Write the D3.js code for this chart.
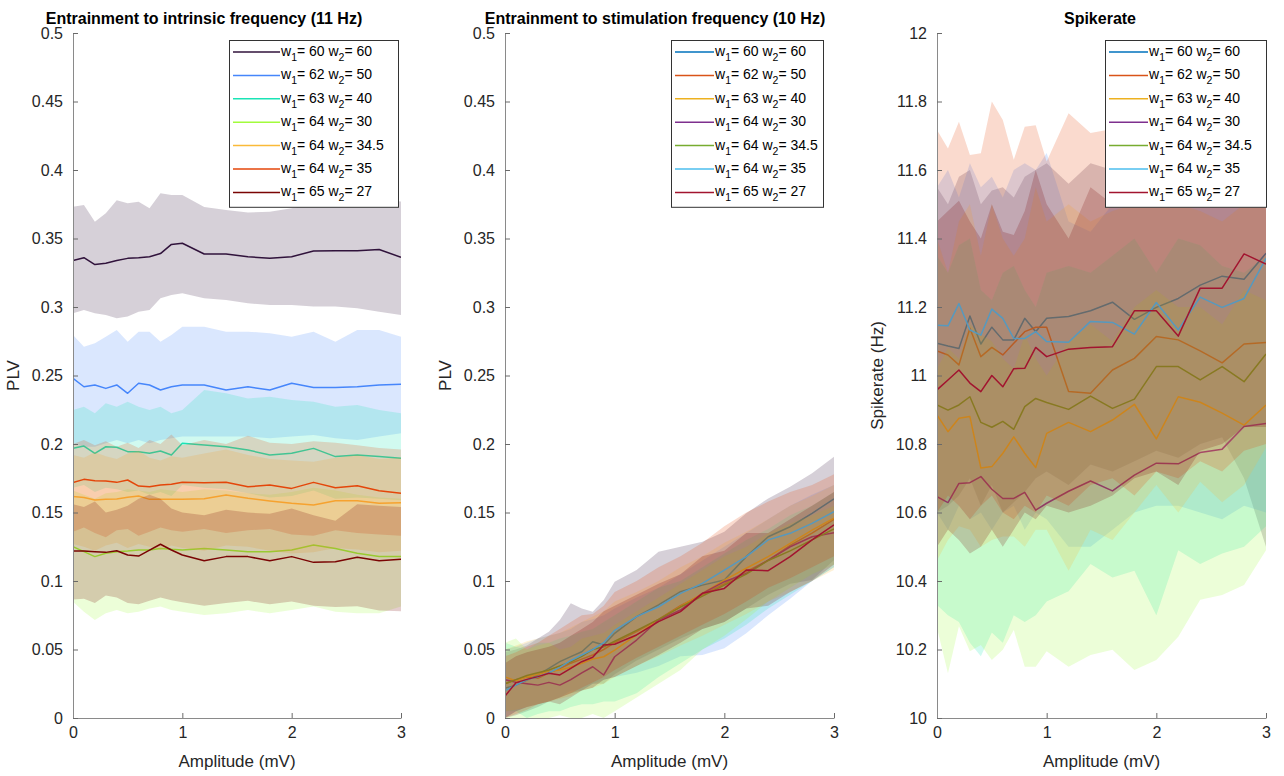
<!DOCTYPE html>
<html>
<head>
<meta charset="utf-8">
<script src="https://cdn.jsdelivr.net/npm/d3@7"></script>
<style>
  body { margin: 0; background: #fff; }
  svg { display: block; font-family: Arial, "Liberation Sans", Helvetica, sans-serif; }
</style>
</head>
<body>
<div id="chart"></div>
<script>
// amplitude grid (mV): 0.1 steps up to 1, then 0.2 steps
const amplitude = [0, 0.1, 0.2, 0.3, 0.4, 0.5, 0.6, 0.7, 0.8, 0.9, 1.0, 1.2, 1.4, 1.6, 1.8, 2.0, 2.2, 2.4, 2.6, 2.8, 3.0];

const w1 = [60, 62, 63, 64, 64, 64, 65];
const w2 = [60, 50, 40, 30, 34.5, 35, 27];

const ampTicks = [0, 1, 2, 3];
const plvTicks = [0, 0.05, 0.1, 0.15, 0.2, 0.25, 0.3, 0.35, 0.4, 0.45, 0.5];
const spikeTicks = [10, 10.2, 10.4, 10.6, 10.8, 11, 11.2, 11.4, 11.6, 11.8, 12];

const turboColors = ["#30123b", "#4686fb", "#1ae4b6", "#a2fc3c", "#faba39", "#e4460a", "#7a0403"];
const matlabColors = ["#0072bd", "#d95319", "#edb120", "#7e2f8e", "#77ac30", "#4dbeee", "#a2142f"];

// PLV at intrinsic frequency (11 Hz)
const intrMean = [
  [0.334, 0.336, 0.331, 0.332, 0.334, 0.3355, 0.336, 0.3367, 0.339, 0.3457, 0.3465, 0.3387, 0.3387, 0.3367, 0.3355, 0.3367, 0.3409, 0.341, 0.3411, 0.342, 0.3363],
  [0.248, 0.2418, 0.2431, 0.2406, 0.2431, 0.237, 0.2443, 0.2431, 0.2394, 0.2418, 0.2431, 0.2431, 0.2394, 0.2418, 0.2394, 0.2443, 0.2413, 0.2413, 0.2418, 0.2431, 0.2436],
  [0.1968, 0.1985, 0.1932, 0.198, 0.1976, 0.1944, 0.1944, 0.1932, 0.1949, 0.192, 0.2005, 0.1993, 0.198, 0.1956, 0.192, 0.1932, 0.1968, 0.1908, 0.192, 0.1908, 0.1896],
  [0.125, 0.1214, 0.1178, 0.1202, 0.1214, 0.1219, 0.1226, 0.1226, 0.1238, 0.1231, 0.1226, 0.1238, 0.1226, 0.1214, 0.1214, 0.1226, 0.1263, 0.1238, 0.1202, 0.1178, 0.1178],
  [0.1616, 0.1609, 0.1591, 0.1596, 0.1599, 0.1611, 0.162, 0.1596, 0.1596, 0.1596, 0.1596, 0.1601, 0.1628, 0.1604, 0.1584, 0.1567, 0.1555, 0.1586, 0.1586, 0.1567, 0.1571],
  [0.1718, 0.1742, 0.1732, 0.173, 0.172, 0.1737, 0.1693, 0.1688, 0.17, 0.1706, 0.172, 0.1718, 0.172, 0.1688, 0.17, 0.1676, 0.172, 0.1681, 0.1696, 0.1659, 0.164],
  [0.1219, 0.1219, 0.1214, 0.1209, 0.1221, 0.119, 0.1182, 0.1226, 0.1268, 0.1226, 0.119, 0.1148, 0.1178, 0.1178, 0.1148, 0.1178, 0.1136, 0.114, 0.1173, 0.1148, 0.1158]
];
const intrLo = [
  [0.2954, 0.2978, 0.2954, 0.2942, 0.2917, 0.293, 0.2966, 0.2978, 0.3063, 0.3088, 0.31, 0.3063, 0.3051, 0.3027, 0.3015, 0.3015, 0.3003, 0.3003, 0.299, 0.2966, 0.2942],
  [0.2005, 0.198, 0.198, 0.2005, 0.2029, 0.2005, 0.2029, 0.2005, 0.2029, 0.2042, 0.2054, 0.2054, 0.2054, 0.2054, 0.2042, 0.2054, 0.2066, 0.2042, 0.2029, 0.2054, 0.2078],
  [0.168, 0.17, 0.165, 0.168, 0.167, 0.165, 0.166, 0.163, 0.165, 0.162, 0.17, 0.168, 0.167, 0.164, 0.161, 0.162, 0.166, 0.16, 0.161, 0.16, 0.159],
  [0.0849, 0.0776, 0.0715, 0.0764, 0.0788, 0.0764, 0.0776, 0.08, 0.0813, 0.0788, 0.0776, 0.0752, 0.0764, 0.0788, 0.0764, 0.0788, 0.0813, 0.0776, 0.0764, 0.0764, 0.0813],
  [0.127, 0.125, 0.122, 0.126, 0.128, 0.124, 0.127, 0.125, 0.123, 0.126, 0.124, 0.122, 0.126, 0.125, 0.122, 0.12, 0.121, 0.124, 0.123, 0.121, 0.122],
  [0.136, 0.139, 0.135, 0.132, 0.137, 0.138, 0.133, 0.136, 0.139, 0.137, 0.136, 0.138, 0.135, 0.137, 0.138, 0.134, 0.133, 0.137, 0.135, 0.134, 0.133],
  [0.0865, 0.087, 0.084, 0.0895, 0.088, 0.084, 0.083, 0.0855, 0.088, 0.086, 0.0845, 0.082, 0.084, 0.0855, 0.083, 0.085, 0.082, 0.081, 0.0815, 0.0785, 0.078]
];
const intrHi = [
  [0.3732, 0.3745, 0.3623, 0.3684, 0.378, 0.3757, 0.3769, 0.372, 0.383, 0.3818, 0.3818, 0.373, 0.3708, 0.369, 0.3696, 0.372, 0.3757, 0.377, 0.379, 0.378, 0.377],
  [0.2796, 0.271, 0.2735, 0.2783, 0.2832, 0.2747, 0.282, 0.282, 0.2747, 0.2796, 0.2856, 0.2856, 0.282, 0.282, 0.2808, 0.2783, 0.282, 0.2747, 0.2832, 0.2832, 0.2783],
  [0.2248, 0.2272, 0.2224, 0.2297, 0.2272, 0.2309, 0.2272, 0.2248, 0.2272, 0.2224, 0.2248, 0.2394, 0.237, 0.2333, 0.2345, 0.2321, 0.2309, 0.2272, 0.2285, 0.2248, 0.2224],
  [0.166, 0.163, 0.16, 0.164, 0.165, 0.167, 0.166, 0.165, 0.167, 0.166, 0.165, 0.167, 0.166, 0.164, 0.163, 0.165, 0.168, 0.166, 0.163, 0.161, 0.16],
  [0.192, 0.19, 0.194, 0.191, 0.189, 0.193, 0.195, 0.19, 0.188, 0.191, 0.19, 0.193, 0.196, 0.192, 0.189, 0.188, 0.187, 0.19, 0.192, 0.189, 0.19],
  [0.2, 0.203, 0.199, 0.202, 0.198, 0.201, 0.197, 0.203, 0.2, 0.207, 0.199, 0.203, 0.2, 0.206, 0.201, 0.2, 0.202, 0.201, 0.199, 0.197, 0.196],
  [0.156, 0.154, 0.158, 0.15, 0.152, 0.155, 0.16, 0.163, 0.16, 0.153, 0.15, 0.148, 0.152, 0.15, 0.149, 0.153, 0.148, 0.144, 0.156, 0.155, 0.154]
];

// PLV at stimulation frequency (10 Hz)
const stimMean = [
  [0.0217, 0.024, 0.0277, 0.0314, 0.0363, 0.0411, 0.0448, 0.0484, 0.0557, 0.0533, 0.0618, 0.074, 0.0825, 0.0922, 0.097, 0.1007, 0.1178, 0.1323, 0.1396, 0.1494, 0.16],
  [0.025, 0.028, 0.03, 0.029, 0.033, 0.036, 0.04, 0.043, 0.046, 0.05, 0.055, 0.063, 0.072, 0.082, 0.09, 0.098, 0.107, 0.115, 0.126, 0.135, 0.145],
  [0.03, 0.027, 0.03, 0.032, 0.034, 0.035, 0.037, 0.04, 0.043, 0.0447, 0.0496, 0.0606, 0.0715, 0.0812, 0.091, 0.1007, 0.1093, 0.1178, 0.1275, 0.1372, 0.1458],
  [0.028, 0.026, 0.025, 0.024, 0.026, 0.024, 0.028, 0.033, 0.0374, 0.0314, 0.0447, 0.0569, 0.0715, 0.0788, 0.091, 0.0995, 0.1056, 0.1153, 0.125, 0.1323, 0.1353],
  [0.025, 0.028, 0.031, 0.033, 0.035, 0.038, 0.041, 0.045, 0.05, 0.052, 0.056, 0.064, 0.072, 0.081, 0.089, 0.097, 0.105, 0.115, 0.122, 0.13, 0.138],
  [0.02, 0.024, 0.028, 0.03, 0.033, 0.037, 0.042, 0.046, 0.05, 0.055, 0.064, 0.074, 0.0812, 0.091, 0.0983, 0.108, 0.1178, 0.13, 0.1348, 0.1421, 0.1506],
  [0.016, 0.0258, 0.0282, 0.0302, 0.0326, 0.0314, 0.0363, 0.0411, 0.0443, 0.0533, 0.0538, 0.0606, 0.0703, 0.0776, 0.091, 0.0946, 0.108, 0.1075, 0.1178, 0.13, 0.1409]
];
const stimLo = [
  [0.0, 0.002, 0.005, 0.008, 0.012, 0.015, 0.018, 0.02, 0.025, 0.025, 0.032, 0.042, 0.05, 0.058, 0.065, 0.07, 0.08, 0.09, 0.098, 0.1007, 0.1153],
  [0.0, 0.005, 0.008, 0.01, 0.012, 0.015, 0.02, 0.02, 0.025, 0.028, 0.03, 0.033, 0.038, 0.045, 0.046, 0.0509, 0.0618, 0.075, 0.087, 0.1, 0.11],
  [0.005, 0.005, 0.0, 0.003, 0.005, 0.005, 0.008, 0.01, 0.01, 0.012, 0.012, 0.018, 0.03, 0.04, 0.05, 0.058, 0.068, 0.08, 0.09, 0.1, 0.11],
  [0.0, 0.0, 0.0, 0.0, 0.0, 0.002, 0.0, 0.0, 0.003, 0.0, 0.005, 0.015, 0.025, 0.035, 0.05, 0.06, 0.072, 0.085, 0.095, 0.105, 0.112],
  [0.005, 0.006, 0.008, 0.01, 0.012, 0.014, 0.016, 0.02, 0.022, 0.025, 0.03, 0.038, 0.045, 0.053, 0.06, 0.068, 0.076, 0.085, 0.092, 0.1, 0.108],
  [0.0, 0.003, 0.006, 0.01, 0.012, 0.015, 0.018, 0.022, 0.026, 0.03, 0.035, 0.044, 0.052, 0.06, 0.068, 0.076, 0.085, 0.095, 0.102, 0.11, 0.118],
  [0.0, 0.005, 0.008, 0.01, 0.012, 0.01, 0.015, 0.02, 0.022, 0.028, 0.03, 0.038, 0.046, 0.055, 0.065, 0.07, 0.08, 0.082, 0.092, 0.1, 0.112]
];
const stimHi = [
  [0.048, 0.05, 0.053, 0.058, 0.063, 0.0715, 0.0837, 0.08, 0.0776, 0.0861, 0.0995, 0.108, 0.1214, 0.125, 0.1287, 0.136, 0.1494, 0.1603, 0.1688, 0.1786, 0.1907],
  [0.05, 0.052, 0.055, 0.058, 0.06, 0.062, 0.065, 0.07, 0.072, 0.075, 0.08, 0.088, 0.095, 0.105, 0.115, 0.125, 0.135, 0.145, 0.155, 0.163, 0.17],
  [0.055, 0.052, 0.05, 0.055, 0.055, 0.058, 0.06, 0.063, 0.065, 0.07, 0.075, 0.085, 0.095, 0.1, 0.11, 0.12, 0.13, 0.138, 0.148, 0.155, 0.165],
  [0.055, 0.058, 0.05, 0.053, 0.055, 0.05, 0.052, 0.058, 0.06, 0.062, 0.068, 0.078, 0.088, 0.098, 0.108, 0.118, 0.125, 0.135, 0.142, 0.148, 0.155],
  [0.05, 0.053, 0.056, 0.058, 0.06, 0.062, 0.066, 0.07, 0.074, 0.078, 0.085, 0.092, 0.1, 0.11, 0.118, 0.128, 0.136, 0.145, 0.155, 0.162, 0.17],
  [0.045, 0.048, 0.052, 0.055, 0.06, 0.065, 0.07, 0.075, 0.076, 0.082, 0.092, 0.1, 0.11, 0.118, 0.128, 0.14, 0.15, 0.158, 0.165, 0.17, 0.178],
  [0.04, 0.045, 0.048, 0.05, 0.052, 0.055, 0.06, 0.065, 0.07, 0.078, 0.082, 0.09, 0.098, 0.105, 0.118, 0.122, 0.135, 0.135, 0.145, 0.155, 0.165]
];

// spike rate (Hz)
const rateMean = [
  [11.094, 11.086, 11.079, 11.174, 11.092, 11.141, 11.104, 11.104, 11.167, 11.128, 11.167, 11.172, 11.189, 11.214, 11.164, 11.199, 11.225, 11.264, 11.29, 11.281, 11.357],
  [11.072, 11.06, 11.031, 11.138, 11.055, 11.082, 11.06, 11.094, 11.128, 11.141, 11.141, 10.953, 10.948, 11.016, 11.05, 11.114, 11.104, 11.072, 11.037, 11.092, 11.096],
  [10.885, 10.836, 10.875, 10.88, 10.73, 10.734, 10.773, 10.821, 10.773, 10.731, 10.831, 10.863, 10.836, 10.87, 10.916, 10.815, 10.938, 10.922, 10.89, 10.855, 10.914],
  [10.646, 10.629, 10.685, 10.687, 10.705, 10.668, 10.641, 10.641, 10.659, 10.607, 10.627, 10.662, 10.692, 10.663, 10.709, 10.744, 10.742, 10.775, 10.785, 10.851, 10.86],
  [10.914, 10.899, 10.914, 10.938, 10.863, 10.849, 10.866, 10.843, 10.909, 10.933, 10.921, 10.901, 10.94, 10.904, 10.931, 11.026, 11.026, 10.987, 11.026, 10.982, 11.063],
  [11.147, 11.145, 11.21, 11.133, 11.118, 11.194, 11.167, 11.108, 11.108, 11.128, 11.099, 11.097, 11.158, 11.155, 11.121, 11.213, 11.133, 11.229, 11.199, 11.225, 11.342],
  [10.958, 10.987, 11.016, 10.978, 10.953, 11.0, 10.967, 11.02, 11.021, 11.082, 11.055, 11.077, 11.082, 11.084, 11.189, 11.189, 11.115, 11.255, 11.255, 11.355, 11.325]
];
const rateLo = [
  [10.6, 10.62, 10.65, 10.7, 10.62, 10.68, 10.6, 10.63, 10.66, 10.7, 10.72, 10.68, 10.74, 10.72, 10.75, 10.78, 10.76, 10.8, 10.82, 10.7, 10.5],
  [10.6, 10.55, 10.62, 10.58, 10.6, 10.55, 10.6, 10.62, 10.55, 10.6, 10.58, 10.5, 10.5, 10.55, 10.6, 10.62, 10.62, 10.6, 10.58, 10.62, 10.6],
  [10.33, 10.3, 10.28, 10.22, 10.18, 10.25, 10.22, 10.3, 10.28, 10.3, 10.34, 10.37, 10.45, 10.41, 10.43, 10.3, 10.49, 10.45, 10.48, 10.5, 10.56],
  [10.263, 10.131, 10.268, 10.195, 10.213, 10.169, 10.199, 10.257, 10.15, 10.15, 10.195, 10.15, 10.184, 10.199, 10.14, 10.169, 10.237, 10.345, 10.359, 10.388, 10.49],
  [10.46, 10.52, 10.56, 10.55, 10.5, 10.52, 10.53, 10.53, 10.5, 10.55, 10.55, 10.43, 10.55, 10.52, 10.6, 10.68, 10.6, 10.69, 10.63, 10.68, 10.79],
  [10.6, 10.65, 10.62, 10.58, 10.62, 10.65, 10.6, 10.58, 10.62, 10.6, 10.65, 10.62, 10.68, 10.7, 10.65, 10.72, 10.7, 10.75, 10.72, 10.78, 10.8],
  [10.5, 10.55, 10.52, 10.48, 10.5, 10.55, 10.5, 10.55, 10.6, 10.58, 10.62, 10.6, 10.62, 10.65, 10.7, 10.72, 10.68, 10.78, 10.8, 10.85, 10.85]
];
const rateHi = [
  [11.55, 11.5, 11.58, 11.6, 11.5, 11.54, 11.55, 11.52, 11.58, 11.6, 11.62, 11.56, 11.62, 11.6, 11.65, 11.6, 11.62, 11.66, 11.7, 11.68, 11.72],
  [11.55, 11.6, 11.52, 11.62, 11.55, 11.58, 11.52, 11.6, 11.62, 11.6, 11.65, 11.45, 11.42, 11.5, 11.5, 11.58, 11.56, 11.55, 11.5, 11.55, 11.58],
  [11.35, 11.3, 11.38, 11.4, 11.25, 11.22, 11.3, 11.32, 11.25, 11.2, 11.3, 11.32, 11.3, 11.35, 11.4, 11.3, 11.4, 11.38, 11.32, 11.3, 11.35],
  [11.02, 11.08, 11.05, 11.15, 11.12, 11.1, 11.05, 11.02, 11.12, 11.05, 11.0, 11.1, 11.15, 11.1, 11.2, 11.25, 11.2, 11.2, 11.15, 11.25, 11.22],
  [11.4, 11.3, 11.45, 11.5, 11.35, 11.5, 11.4, 11.35, 11.4, 11.55, 11.45, 11.5, 11.45, 11.48, 11.5, 11.52, 11.5, 11.48, 11.45, 11.5, 11.62],
  [11.717, 11.663, 11.741, 11.644, 11.649, 11.8, 11.746, 11.63, 11.726, 11.731, 11.625, 11.766, 11.708, 11.72, 11.75, 11.7, 11.73, 11.72, 11.74, 11.8, 11.88],
  [11.45, 11.48, 11.51, 11.45, 11.4, 11.5, 11.42, 11.41, 11.48, 11.6, 11.5, 11.4, 11.55, 11.5, 11.6, 11.62, 11.55, 11.7, 11.68, 11.78, 11.75]
];

const W = 1284, H = 776;
const plotTop = 33, plotBottom = 718;
const bandAlpha = 0.2;

const svg = d3.select("#chart").append("svg")
  .attr("width", W)
  .attr("height", H);

const panels = [
  { title: "Entrainment to intrinsic frequency (11 Hz)", titleX: 204, left: 73, right: 401,
    domain: [0, 0.5], ticks: plvTicks, fmt: d => String(+d.toFixed(2)), yLabel: "PLV", yLabelX: 19,
    mean: intrMean, lo: intrLo, hi: intrHi, lines: turboColors,
    legend: { x: 229, w: 169, y: 40, lineLen: 47 } },
  { title: "Entrainment to stimulation frequency (10 Hz)", titleX: 655, left: 505, right: 834,
    domain: [0, 0.5], ticks: plvTicks, fmt: d => String(+d.toFixed(2)), yLabel: "PLV", yLabelX: 451,
    mean: stimMean, lo: stimLo, hi: stimHi, lines: matlabColors,
    legend: { x: 671, w: 152, y: 40, lineLen: 39 } },
  { title: "Spikerate", titleX: 1100, left: 937, right: 1266,
    domain: [10, 12], ticks: spikeTicks, fmt: d => String(+d.toFixed(1)), yLabel: "Spikerate (Hz)", yLabelX: 883,
    mean: rateMean, lo: rateLo, hi: rateHi, lines: matlabColors,
    legend: { x: 1105, w: 161, y: 40, lineLen: 39 } }
];

panels.forEach((p, pi) => {
  const x = d3.scaleLinear().domain([0, 3]).range([p.left, p.right]);
  const y = d3.scaleLinear().domain(p.domain).range([plotBottom, plotTop]);
  const g = svg.append("g");

  const clipId = "clip" + pi;
  svg.append("clipPath").attr("id", clipId)
    .append("rect")
    .attr("x", p.left).attr("y", plotTop)
    .attr("width", p.right - p.left).attr("height", plotBottom - plotTop);

  const plot = g.append("g").attr("clip-path", `url(#${clipId})`);

  const area = d3.area()
    .x((d, i) => x(amplitude[i]))
    .y0(d => y(d[0]))
    .y1(d => y(d[1]));
  const line = d3.line()
    .x((d, i) => x(amplitude[i]))
    .y(d => y(d));

  // band then mean line for each series, in order
  p.mean.forEach((m, si) => {
    const band = amplitude.map((a, i) => [p.lo[si][i], p.hi[si][i]]);
    plot.append("path")
      .datum(band)
      .attr("d", area)
      .attr("fill", turboColors[si])
      .attr("fill-opacity", bandAlpha);
    plot.append("path")
      .datum(m)
      .attr("d", line)
      .attr("fill", "none")
      .attr("stroke", p.lines[si])
      .attr("stroke-width", 1.5)
      .attr("stroke-linejoin", "round");
  });

  // axes (ticks pointing in, MATLAB style)
  const xAxis = d3.axisBottom(x).tickValues(ampTicks).tickFormat(d3.format("d"))
    .tickSizeInner(-5).tickSizeOuter(0).tickPadding(9);
  const yAxis = d3.axisLeft(y).tickValues(p.ticks).tickFormat(p.fmt)
    .tickSizeInner(-5).tickSizeOuter(0).tickPadding(10);

  const gx = g.append("g").attr("transform", `translate(0,${plotBottom})`).call(xAxis);
  const gy = g.append("g").attr("transform", `translate(${p.left},0)`).call(yAxis);
  [gx, gy].forEach(ax => {
    ax.select(".domain").attr("stroke", "#8a8a8a").attr("stroke-width", 1);
    ax.selectAll(".tick line").attr("stroke", "#6a6a6a");
    ax.selectAll(".tick text").attr("fill", "#262626").attr("font-size", 16).attr("font-family", null);
  });

  g.append("text")
    .attr("x", p.titleX).attr("y", 24)
    .attr("text-anchor", "middle")
    .attr("font-weight", "bold")
    .attr("font-size", 16)
    .attr("fill", "#000")
    .text(p.title);

  g.append("text")
    .attr("x", (p.left + p.right) / 2).attr("y", 767)
    .attr("text-anchor", "middle")
    .attr("font-size", 17)
    .attr("fill", "#262626")
    .text("Amplitude (mV)");

  g.append("text")
    .attr("transform", `translate(${p.yLabelX},${(plotTop + plotBottom) / 2}) rotate(-90)`)
    .attr("text-anchor", "middle")
    .attr("font-size", 17)
    .attr("fill", "#262626")
    .text(p.yLabel);

  // legend
  const L = p.legend;
  const rowH = 23.4;
  const lg = g.append("g");
  lg.append("rect")
    .attr("x", L.x + 0.5).attr("y", L.y + 0.5)
    .attr("width", L.w).attr("height", rowH * 7 + 3)
    .attr("fill", "#fff")
    .attr("stroke", "#333")
    .attr("stroke-width", 1);
  w1.forEach((a, i) => {
    const cy = L.y + 12 + i * rowH;
    lg.append("line")
      .attr("x1", L.x + 4).attr("x2", L.x + 4 + L.lineLen)
      .attr("y1", cy).attr("y2", cy)
      .attr("stroke", p.lines[i])
      .attr("stroke-width", 1.5);
    const t = lg.append("text")
      .attr("x", L.x + 5 + L.lineLen).attr("y", cy + 4)
      .attr("font-size", 14)
      .attr("fill", "#000");
    t.append("tspan").text("w");
    t.append("tspan").attr("font-size", 10.5).attr("dy", 5).text("1");
    t.append("tspan").attr("dy", -5).text(`= ${a} w`);
    t.append("tspan").attr("font-size", 10.5).attr("dy", 5).text("2");
    t.append("tspan").attr("dy", -5).text(`= ${w2[i]}`);
  });
});
</script>
</body>
</html>
